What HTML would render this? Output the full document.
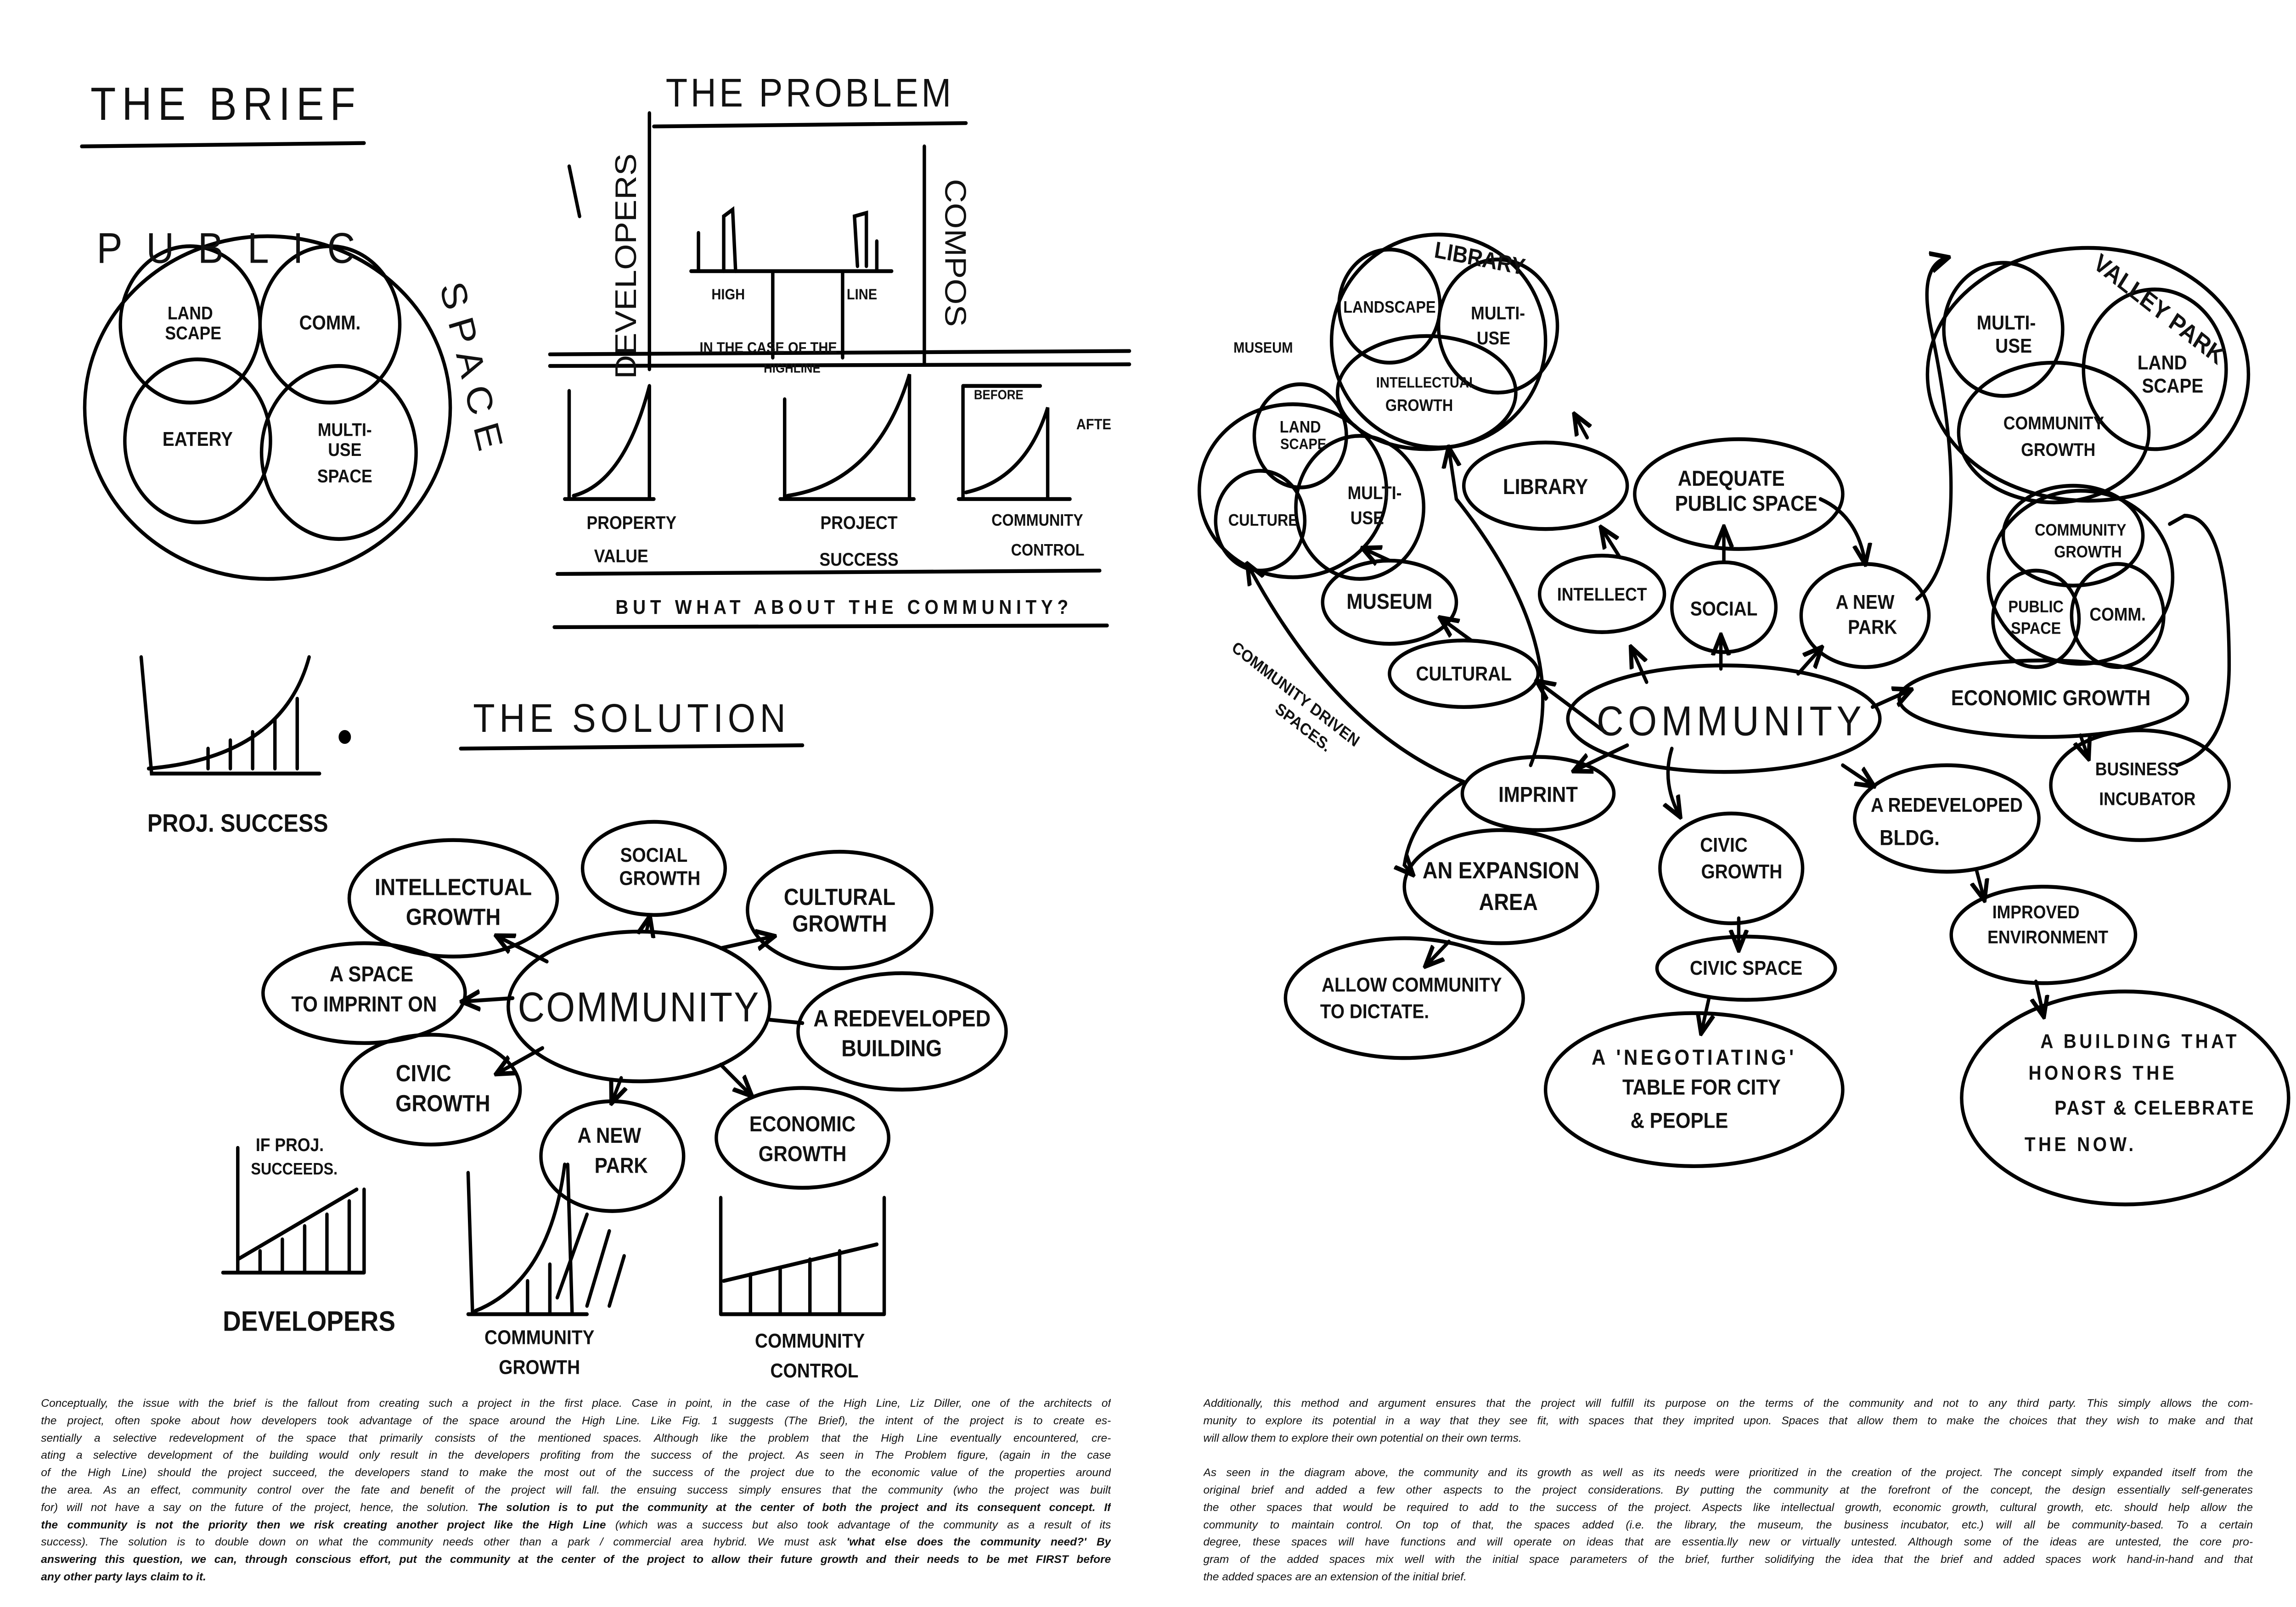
<!DOCTYPE html>
<html><head><meta charset="utf-8">
<style>
html,body{margin:0;padding:0;background:#fff;width:100vw;height:100vh;overflow:hidden;}
#wrap{position:relative;width:100vw;height:100vh;overflow:hidden;background:#fff;}
svg{position:absolute;left:0;top:0;width:100vw;height:100vh;}
.p{position:absolute;font-family:"Liberation Sans",sans-serif;font-style:italic;font-size:0.49vw;line-height:1.08vh;color:#111;overflow:hidden;}
.p div{white-space:nowrap;text-align:justify;text-align-last:justify;height:1.08vh;overflow:hidden;}
.p div.l{text-align-last:left;}
</style></head><body><div id="wrap">
<svg viewBox="0 0 1545 966" preserveAspectRatio="none" xmlns="http://www.w3.org/2000/svg">
<defs><marker id="a" viewBox="0 0 10 10" refX="8" refY="5" markerWidth="6" markerHeight="6" orient="auto"><path d="M0,1 L9,5 L0,9" fill="none" stroke="#000" stroke-width="2"/></marker></defs>
<g fill="none" stroke="#000" stroke-width="2.3" stroke-linecap="round">
<path d="M55 88 L245 86"/>
<ellipse cx="180" cy="245" rx="123" ry="103"/>
<circle cx="128" cy="195" r="47"/><circle cx="222" cy="195" r="47"/>
<circle cx="133" cy="265" r="49"/><circle cx="228" cy="272" r="52"/>
<path d="M440 76 L650 74"/>
<path d="M437 68 L437 222 M622 88 L622 218 M383 100 L390 130"/>
<path d="M465 163 L600 163 M520 163 L520 215 M567 163 L567 215 M470 163 L470 140 M590 163 L590 145"/>
<path d="M487 163 L487 130 L493 126 L495 163 M577 160 L575 130 L583 128 L583 160"/>
<path d="M370 213 L760 211 M370 220 L760 219"/>
<path d="M383 235 L383 300 M380 300 L440 300 M386 298 Q420 290 437 232 M437 232 L437 300" />
<path d="M528 240 L528 300 M525 300 L615 300 M530 298 Q590 290 612 225 L612 300"/>
<path d="M648 232 L648 300 M645 300 L720 300 M650 296 Q690 288 705 245 L705 300 M648 232 L700 232"/>
<path d="M375 345 L740 343 M373 377 L745 376"/>
<path d="M95 395 L102 465 L215 465 M100 462 Q190 455 208 395 M140 462 L140 450 M155 462 L155 445 M170 462 L170 440 M185 462 L185 432 M200 462 L200 420"/>
<circle cx="232" cy="443" r="3" fill="#000"/>
<path d="M310 450 L540 448"/>
<ellipse cx="430" cy="605" rx="88" ry="45"/>
<ellipse cx="305" cy="540" rx="70" ry="35"/>
<ellipse cx="440" cy="522" rx="48" ry="28"/>
<ellipse cx="565" cy="547" rx="62" ry="35"/>
<ellipse cx="245" cy="597" rx="68" ry="30"/>
<ellipse cx="607" cy="620" rx="70" ry="35"/>
<ellipse cx="290" cy="655" rx="60" ry="33"/>
<ellipse cx="412" cy="695" rx="48" ry="33"/>
<ellipse cx="540" cy="684" rx="58" ry="30"/>
<path d="M368 578 L335 563" marker-end="url(#a)"/>
<path d="M435 560 L437 552" marker-end="url(#a)"/>
<path d="M485 570 L520 563" marker-end="url(#a)"/>
<path d="M345 600 L312 602" marker-end="url(#a)"/>
<path d="M518 613 L540 615"/>
<path d="M365 630 L335 645" marker-end="url(#a)"/>
<path d="M418 648 L412 662" marker-end="url(#a)"/>
<path d="M485 640 L505 658" marker-end="url(#a)"/>
<path d="M160 690 L160 765 M150 765 L245 765 M160 757 L240 715 M175 752 L175 765 M190 745 L190 765 M205 737 L205 765 M220 730 L220 765 M235 722 L235 765 M245 715 L245 765"/>
<path d="M315 705 L318 790 M315 790 L395 790 M320 788 Q370 770 380 700 M382 700 L385 790 M355 770 L355 790 M370 760 L370 790 M395 730 L375 780 M410 740 L395 785 M420 755 L410 785"/>
<path d="M485 720 L485 790 M485 790 L595 790 M487 770 L590 748 M595 720 L595 790 M505 766 L505 790 M525 762 L525 790 M545 757 L545 790 M565 752 L565 790"/>
<ellipse cx="1160" cy="432" rx="105" ry="32"/>
<ellipse cx="968" cy="205" rx="72" ry="64"/>
<circle cx="935" cy="184" r="34"/><circle cx="1008" cy="196" r="40"/>
<ellipse cx="960" cy="236" rx="60" ry="34"/>
<ellipse cx="870" cy="295" rx="63" ry="52"/>
<circle cx="875" cy="262" r="31"/><circle cx="915" cy="305" r="43"/><circle cx="848" cy="313" r="30"/>
<ellipse cx="1405" cy="225" rx="108" ry="76"/>
<circle cx="1348" cy="198" r="40"/><circle cx="1450" cy="222" r="48"/>
<ellipse cx="1382" cy="260" rx="64" ry="42"/>
<ellipse cx="1400" cy="347" rx="62" ry="52"/>
<ellipse cx="1395" cy="322" rx="47" ry="30"/>
<circle cx="1370" cy="372" r="29"/><circle cx="1425" cy="370" r="31"/>
<ellipse cx="1040" cy="292" rx="55" ry="26"/>
<ellipse cx="1170" cy="297" rx="70" ry="33"/>
<ellipse cx="1078" cy="357" rx="42" ry="23"/>
<ellipse cx="1160" cy="365" rx="35" ry="27"/>
<ellipse cx="1255" cy="370" rx="43" ry="31"/>
<ellipse cx="935" cy="362" rx="45" ry="25"/>
<ellipse cx="985" cy="405" rx="50" ry="20"/>
<ellipse cx="1375" cy="420" rx="97" ry="23"/>
<ellipse cx="1035" cy="477" rx="51" ry="22"/>
<ellipse cx="1440" cy="472" rx="60" ry="33"/>
<ellipse cx="1165" cy="522" rx="48" ry="33"/>
<ellipse cx="1310" cy="492" rx="62" ry="32"/>
<ellipse cx="1010" cy="533" rx="65" ry="34"/>
<ellipse cx="1375" cy="562" rx="62" ry="29"/>
<ellipse cx="1175" cy="582" rx="60" ry="19"/>
<ellipse cx="945" cy="600" rx="80" ry="36"/>
<ellipse cx="1140" cy="655" rx="100" ry="46"/>
<ellipse cx="1430" cy="660" rx="110" ry="64"/>
<path d="M1108 410 L1098 390" marker-end="url(#a)"/>
<path d="M1158 402 L1158 383" marker-end="url(#a)"/>
<path d="M1210 405 L1225 390" marker-end="url(#a)"/>
<path d="M1090 335 L1078 318" marker-end="url(#a)"/>
<path d="M1160 338 L1160 318" marker-end="url(#a)"/>
<path d="M1225 300 Q1250 310 1255 338" marker-end="url(#a)"/>
<path d="M1080 440 Q1050 420 1035 410" marker-end="url(#a)"/>
<path d="M990 385 L970 372" marker-end="url(#a)"/>
<path d="M935 337 L918 330" marker-end="url(#a)"/>
<path d="M1068 263 L1060 250" marker-end="url(#a)"/>
<path d="M1095 448 L1060 463" marker-end="url(#a)"/>
<path d="M1260 425 L1285 415" marker-end="url(#a)"/>
<path d="M1125 450 Q1118 470 1130 490" marker-end="url(#a)"/>
<path d="M1240 460 L1260 472" marker-end="url(#a)"/>
<path d="M1400 442 L1405 455" marker-end="url(#a)"/>
<path d="M1330 523 L1335 540" marker-end="url(#a)"/>
<path d="M1170 552 L1170 570" marker-end="url(#a)"/>
<path d="M1150 600 L1145 620" marker-end="url(#a)"/>
<path d="M1370 590 L1375 610" marker-end="url(#a)"/>
<path d="M975 566 L960 580" marker-end="url(#a)"/>
<path d="M985 470 Q950 490 945 520 L950 525" marker-end="url(#a)"/>
<path d="M985 470 Q900 440 840 340" marker-end="url(#a)"/>
<path d="M1030 460 Q1060 390 980 300 L975 270" marker-end="url(#a)"/>
<path d="M1290 360 Q1330 330 1300 200 Q1290 160 1310 155" marker-end="url(#a)"/>
<path d="M1465 460 Q1500 450 1500 400 Q1500 310 1470 310 L1460 315"/>
</g>
<g font-family="'Liberation Sans Narrow','Liberation Sans',sans-serif" font-weight="bold" fill="#111" text-anchor="middle">
<text x="152" y="72" font-size="28" font-weight="normal" letter-spacing="4">THE  BRIEF</text>
<text x="545" y="64" font-size="24" font-weight="normal" letter-spacing="2">THE PROBLEM</text>
<text x="160" y="158" font-size="26" font-weight="normal" letter-spacing="16">PUBLIC</text>
<text x="310" y="225" font-size="24" font-weight="normal" letter-spacing="6" transform="rotate(75 310 225)">SPACE</text>
<text x="128" y="192" font-size="11">LAND</text><text x="130" y="204" font-size="11">SCAPE</text>
<text x="222" y="198" font-size="12">COMM.</text>
<text x="133" y="268" font-size="12">EATERY</text>
<text x="232" y="262" font-size="11">MULTI-</text><text x="232" y="274" font-size="11">USE</text><text x="232" y="290" font-size="11">SPACE</text>
<text x="428" y="160" font-size="20" font-weight="normal" transform="rotate(-90 428 160)">DEVELOPERS</text>
<text x="636" y="152" font-size="20" font-weight="normal" transform="rotate(90 636 152)">COMPOS</text>
<text x="490" y="180" font-size="9">HIGH</text><text x="580" y="180" font-size="9">LINE</text>
<text x="517" y="212" font-size="9">IN THE CASE OF THE</text><text x="533" y="224" font-size="8">HIGHLINE</text>
<text x="672" y="240" font-size="8">BEFORE</text><text x="736" y="258" font-size="9">AFTE</text>
<text x="425" y="318" font-size="11">PROPERTY</text><text x="418" y="338" font-size="11">VALUE</text>
<text x="578" y="318" font-size="11">PROJECT</text><text x="578" y="340" font-size="11">SUCCESS</text>
<text x="698" y="316" font-size="10">COMMUNITY</text><text x="705" y="334" font-size="10">CONTROL</text>
<text x="568" y="369" font-size="12" letter-spacing="3">BUT WHAT  ABOUT  THE  COMMUNITY?</text>
<text x="160" y="500" font-size="15">PROJ. SUCCESS</text>
<text x="425" y="440" font-size="24" font-weight="normal" letter-spacing="3">THE SOLUTION</text>
<text x="430" y="614" font-size="25" font-weight="normal" letter-spacing="1">COMMUNITY</text>
<text x="305" y="538" font-size="14">INTELLECTUAL</text><text x="305" y="556" font-size="14">GROWTH</text>
<text x="440" y="518" font-size="12">SOCIAL</text><text x="444" y="532" font-size="12">GROWTH</text>
<text x="565" y="544" font-size="14">CULTURAL</text><text x="565" y="560" font-size="14">GROWTH</text>
<text x="250" y="590" font-size="13">A SPACE</text><text x="245" y="608" font-size="13">TO IMPRINT ON</text>
<text x="607" y="617" font-size="14">A REDEVELOPED</text><text x="600" y="635" font-size="14">BUILDING</text>
<text x="285" y="650" font-size="14">CIVIC</text><text x="298" y="668" font-size="14">GROWTH</text>
<text x="410" y="687" font-size="13">A NEW</text><text x="418" y="705" font-size="13">PARK</text>
<text x="540" y="680" font-size="13">ECONOMIC</text><text x="540" y="698" font-size="13">GROWTH</text>
<text x="195" y="692" font-size="11">IF PROJ.</text><text x="198" y="706" font-size="10">SUCCEEDS.</text>
<text x="208" y="800" font-size="17">DEVELOPERS</text>
<text x="363" y="808" font-size="12">COMMUNITY</text><text x="363" y="826" font-size="12">GROWTH</text>
<text x="545" y="810" font-size="12">COMMUNITY</text><text x="548" y="828" font-size="12">CONTROL</text>
<text x="1165" y="442" font-size="25" font-weight="normal" letter-spacing="3">COMMUNITY</text>
<text x="995" y="160" font-size="14" transform="rotate(10 995 160)">LIBRARY</text>
<text x="850" y="212" font-size="9">MUSEUM</text>
<text x="1450" y="190" font-size="15" transform="rotate(35 1450 190)">VALLEY PARK</text>
<text x="935" y="188" font-size="10">LANDSCAPE</text>
<text x="1008" y="192" font-size="11">MULTI-</text><text x="1005" y="207" font-size="11">USE</text>
<text x="960" y="233" font-size="9">INTELLECTUAL</text><text x="955" y="247" font-size="10">GROWTH</text>
<text x="875" y="260" font-size="10">LAND</text><text x="877" y="270" font-size="9">SCAPE</text>
<text x="925" y="300" font-size="11">MULTI-</text><text x="920" y="315" font-size="11">USE</text>
<text x="850" y="316" font-size="10">CULTURE</text>
<text x="1350" y="198" font-size="12">MULTI-</text><text x="1355" y="212" font-size="12">USE</text>
<text x="1455" y="222" font-size="12">LAND</text><text x="1462" y="236" font-size="12">SCAPE</text>
<text x="1382" y="258" font-size="11">COMMUNITY</text><text x="1385" y="274" font-size="11">GROWTH</text>
<text x="1400" y="322" font-size="10">COMMUNITY</text><text x="1405" y="335" font-size="10">GROWTH</text>
<text x="1370" y="368" font-size="10">PUBLIC</text><text x="1370" y="381" font-size="10">SPACE</text>
<text x="1425" y="373" font-size="11">COMM.</text>
<text x="1040" y="297" font-size="13">LIBRARY</text>
<text x="1165" y="292" font-size="13">ADEQUATE</text><text x="1175" y="307" font-size="13">PUBLIC SPACE</text>
<text x="1078" y="361" font-size="11">INTELLECT</text>
<text x="1160" y="370" font-size="12">SOCIAL</text>
<text x="1255" y="366" font-size="12">A NEW</text><text x="1260" y="381" font-size="12">PARK</text>
<text x="935" y="366" font-size="13">MUSEUM</text>
<text x="985" y="409" font-size="12">CULTURAL</text>
<text x="1380" y="424" font-size="13">ECONOMIC GROWTH</text>
<text x="1035" y="482" font-size="13">IMPRINT</text>
<text x="1438" y="466" font-size="11">BUSINESS</text><text x="1445" y="484" font-size="11">INCUBATOR</text>
<text x="1160" y="512" font-size="12">CIVIC</text><text x="1172" y="528" font-size="12">GROWTH</text>
<text x="1310" y="488" font-size="12">A REDEVELOPED</text><text x="1285" y="508" font-size="13">BLDG.</text>
<text x="1010" y="528" font-size="14">AN EXPANSION</text><text x="1015" y="547" font-size="14">AREA</text>
<text x="1370" y="552" font-size="11">IMPROVED</text><text x="1378" y="567" font-size="11">ENVIRONMENT</text>
<text x="1175" y="586" font-size="12">CIVIC SPACE</text>
<text x="950" y="596" font-size="12">ALLOW COMMUNITY</text><text x="925" y="612" font-size="12">TO DICTATE.</text>
<text x="1140" y="640" font-size="13" letter-spacing="2">A 'NEGOTIATING'</text><text x="1145" y="658" font-size="13">TABLE FOR CITY</text><text x="1130" y="678" font-size="13">&amp; PEOPLE</text>
<text x="1440" y="630" font-size="12" letter-spacing="2">A BUILDING THAT</text><text x="1415" y="649" font-size="12" letter-spacing="2">HONORS THE</text><text x="1450" y="670" font-size="12" letter-spacing="1">PAST &amp; CELEBRATE</text><text x="1400" y="692" font-size="12" letter-spacing="2">THE NOW.</text>
<text x="870" y="420" font-size="10" transform="rotate(35 870 420)">COMMUNITY DRIVEN</text>
<text x="875" y="440" font-size="10" transform="rotate(35 875 440)">SPACES.</text>
</g>
</svg>
<div class="p" style="left:1.786vw;top:86.8vh;width:46.6vw;">
<div>Conceptually, the issue with the brief is the fallout from creating such a project in the first place. Case in point, in the case of the High Line, Liz Diller, one of the architects of</div>
<div>the project, often spoke about how developers took advantage of the space around the High Line. Like Fig. 1 suggests (The Brief), the intent of the project is to create es-</div>
<div>sentially a selective redevelopment of the space that primarily consists of the mentioned spaces. Although like the problem that the High Line eventually encountered, cre-</div>
<div>ating a selective development of the building would only result in the developers profiting from the success of the project. As seen in The Problem figure, (again in the case</div>
<div>of the High Line) should the project succeed, the developers stand to make the most out of the success of the project due to the economic value of the properties around</div>
<div>the area. As an effect, community control over the fate and benefit of the project will fall. the ensuing success simply ensures that the community (who the project was built</div>
<div>for) will not have a say on the future of the project, hence, the solution. <b>The solution is to put the community at the center of both the project and its consequent concept. If</b></div>
<div><b>the community is not the priority then we risk creating another project like the High Line</b> (which was a success but also took advantage of the community as a result of its</div>
<div>success). The solution is to double down on what the community needs other than a park / commercial area hybrid. We must ask <b>'what else does the community need?' By</b></div>
<div><b>answering this question, we can, through conscious effort, put the community at the center of the project to allow their future growth and their needs to be met FIRST before</b></div>
<div class="l"><b>any other party lays claim to it.</b></div>
</div>
<div class="p" style="left:52.41vw;top:86.8vh;width:45.71vw;">
<div>Additionally, this method and argument ensures that the project will fulfill its purpose on the terms of the community and not to any third party. This simply allows the com-</div>
<div>munity to explore its potential in a way that they see fit, with spaces that they imprited upon. Spaces that allow them to make the choices that they wish to make and that</div>
<div class="l">will allow them to explore their own potential on their own terms.</div>
<div class="l"></div>
<div>As seen in the diagram above, the community and its growth as well as its needs were prioritized in the creation of the project. The concept simply expanded itself from the</div>
<div>original brief and added a few other aspects to the project considerations. By putting the community at the forefront of the concept, the design essentially self-generates</div>
<div>the other spaces that would be required to add to the success of the project. Aspects like intellectual growth, economic growth, cultural growth, etc. should help allow the</div>
<div>community to maintain control. On top of that, the spaces added (i.e. the library, the museum, the business incubator, etc.) will all be community-based. To a certain</div>
<div>degree, these spaces will have functions and will operate on ideas that are essentia.lly new or virtually untested. Although some of the ideas are untested, the core pro-</div>
<div>gram of the added spaces mix well with the initial space parameters of the brief, further solidifying the idea that the brief and added spaces work hand-in-hand and that</div>
<div class="l">the added spaces are an extension of the initial brief.</div>
</div>
</div></body></html>
